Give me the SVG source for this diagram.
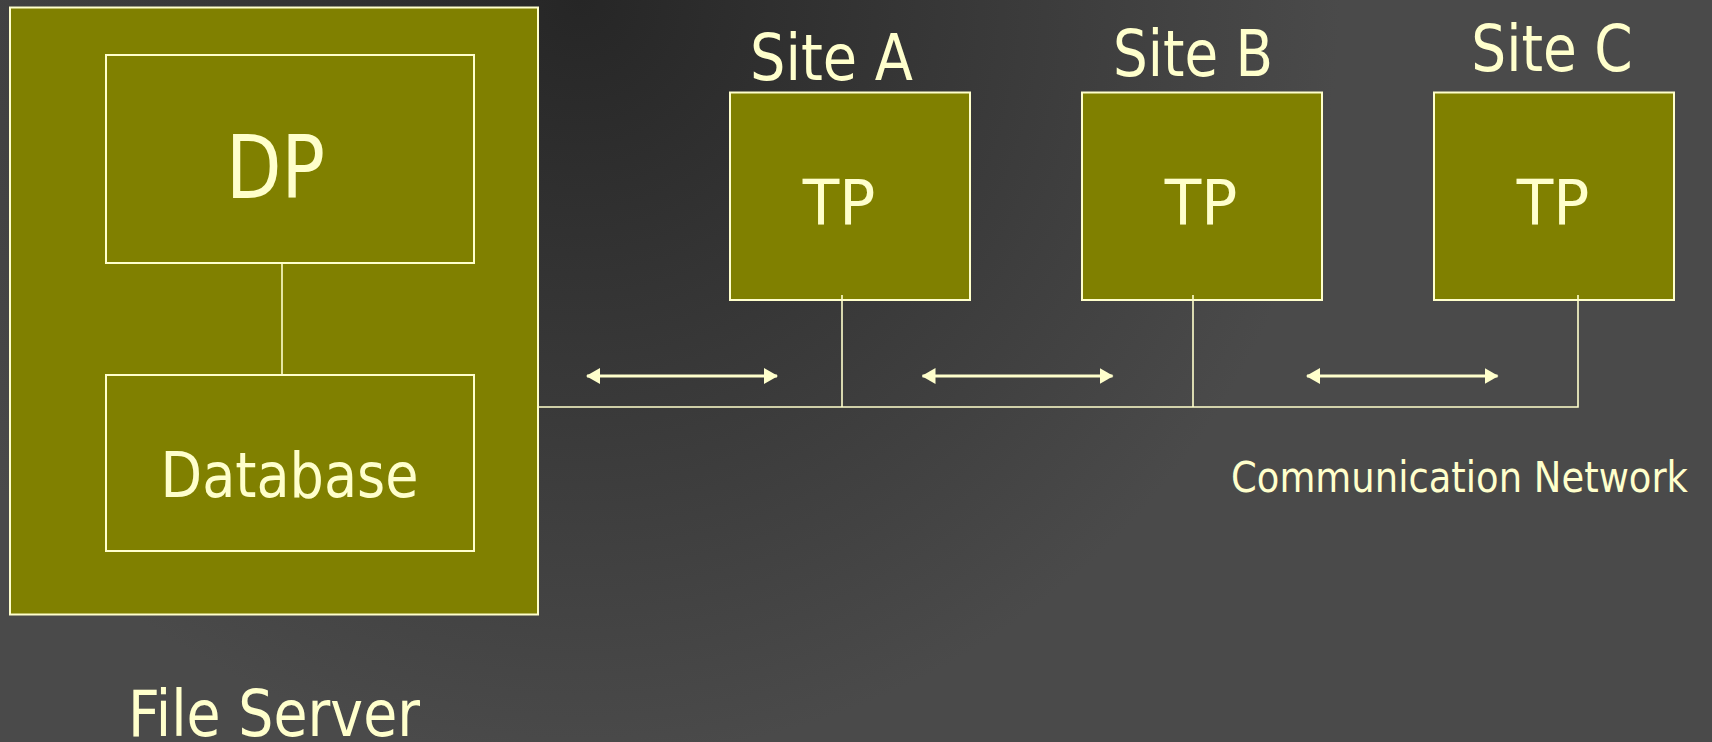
<svg xmlns="http://www.w3.org/2000/svg" width="1712" height="742" viewBox="0 0 1712 742">
  <defs>
    <radialGradient id="bg" gradientUnits="userSpaceOnUse" cx="580" cy="0" r="760">
      <stop offset="0" stop-color="#262626"/>
      <stop offset="1" stop-color="#4a4a4a"/>
    </radialGradient>
    <marker id="ah" viewBox="0 0 14 16" refX="13" refY="8" markerWidth="14" markerHeight="16" markerUnits="userSpaceOnUse" orient="auto-start-reverse">
      <path d="M0,0 L14,8 L0,16 Z" fill="#ffffcc"/>
    </marker>
  </defs>
  <style>
    .box { fill: #808000; stroke: #ffffcc; stroke-width: 2; }
    .lbl { fill: #ffffcc; font-family: "DejaVu Sans", "Liberation Sans", sans-serif; text-anchor: middle; }
    .wire { stroke: #ffffcc; stroke-width: 1.6; fill: none; }
    .arr { stroke: #ffffcc; stroke-width: 3; fill: none; marker-start: url(#ah); marker-end: url(#ah); }
  </style>
  <rect x="0" y="0" width="1712" height="742" fill="url(#bg)"/>

  <g id="file-server">
    <rect class="box" x="10" y="7.5" width="528" height="607"/>
    <text class="lbl" x="274" y="736" font-size="64" textLength="292" lengthAdjust="spacingAndGlyphs">File Server</text>
  </g>
  <g id="dp">
    <rect class="box" x="106" y="55" width="368" height="208"/>
    <text class="lbl" x="275.5" y="198" font-size="87" textLength="99" lengthAdjust="spacingAndGlyphs">DP</text>
  </g>
  <g id="database">
    <rect class="box" x="106" y="375" width="368" height="176"/>
    <text class="lbl" x="289.5" y="497" font-size="63" textLength="258" lengthAdjust="spacingAndGlyphs">Database</text>
  </g>
  <g id="site-a">
    <text class="lbl" x="831.5" y="80" font-size="64" textLength="163" lengthAdjust="spacingAndGlyphs">Site A</text>
    <rect class="box" x="730" y="92.5" width="240" height="207.5"/>
    <text class="lbl" x="839" y="224" font-size="63" textLength="72.6" lengthAdjust="spacingAndGlyphs">TP</text>
  </g>
  <g id="site-b">
    <text class="lbl" x="1193" y="76" font-size="64" textLength="160" lengthAdjust="spacingAndGlyphs">Site B</text>
    <rect class="box" x="1082" y="92.5" width="240" height="207.5"/>
    <text class="lbl" x="1201" y="224" font-size="63" textLength="72.6" lengthAdjust="spacingAndGlyphs">TP</text>
  </g>
  <g id="site-c">
    <text class="lbl" x="1552" y="70.5" font-size="64" textLength="161.5" lengthAdjust="spacingAndGlyphs">Site C</text>
    <rect class="box" x="1434" y="92.5" width="240" height="207.5"/>
    <text class="lbl" x="1553" y="224" font-size="63" textLength="72.6" lengthAdjust="spacingAndGlyphs">TP</text>
  </g>
  <g id="network-label">
    <text class="lbl" x="1459.5" y="492" font-size="43" textLength="457" lengthAdjust="spacingAndGlyphs">Communication Network</text>
  </g>

  <g id="connectors">
    <line class="wire" x1="282" y1="263" x2="282" y2="375"/>
    <polyline class="wire" points="538,407 1578,407 1578,295"/>
    <line class="wire" x1="842" y1="295" x2="842" y2="407"/>
    <line class="wire" x1="1193" y1="295" x2="1193" y2="407"/>
    <line class="arr" x1="587" y1="376" x2="777" y2="376"/>
    <line class="arr" x1="922.5" y1="376" x2="1112.5" y2="376"/>
    <line class="arr" x1="1307" y1="376" x2="1497.5" y2="376"/>
  </g>
</svg>
